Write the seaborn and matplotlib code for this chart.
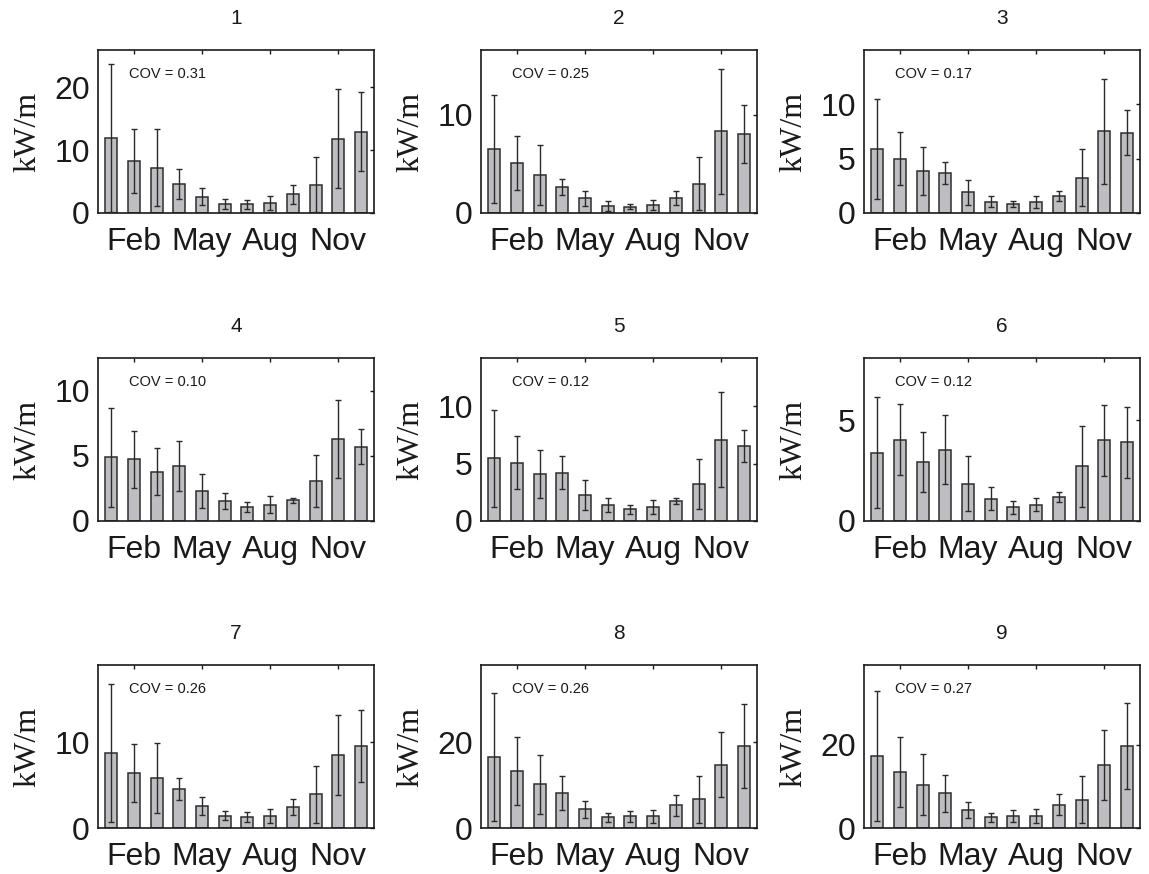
import numpy as np
import pandas as pd
import matplotlib
matplotlib.use("Agg")
import matplotlib.pyplot as plt
import seaborn as sns

months = ["Jan", "Feb", "Mar", "Apr", "May", "Jun", "Jul", "Aug", "Sep", "Oct", "Nov", "Dec"]
tick_labels = ["Feb", "May", "Aug", "Nov"]
panel_titles = ["1", "2", "3", "4", "5", "6", "7", "8", "9"]
cov_values = [0.31, 0.25, 0.17, 0.10, 0.12, 0.12, 0.26, 0.26, 0.27]

means_1 = [11.9, 8.3, 7.2, 4.6, 2.6, 1.4, 1.4, 1.6, 3.0, 4.5, 11.8, 12.9]
err_1 = [11.8, 5.05, 6.15, 2.35, 1.35, 0.75, 0.7, 1.1, 1.5, 4.4, 7.9, 6.25]
means_2 = [6.5, 5.1, 3.9, 2.65, 1.5, 0.71, 0.65, 0.82, 1.53, 3.0, 8.3, 8.06]
err_2 = [5.5, 2.75, 3.05, 0.8, 0.75, 0.48, 0.29, 0.53, 0.72, 2.7, 6.4, 2.95]
means_3 = [5.9, 5.0, 3.9, 3.7, 1.9, 1.05, 0.8, 1.0, 1.57, 3.26, 7.5, 7.4]
err_3 = [4.6, 2.45, 2.2, 1.0, 1.15, 0.48, 0.28, 0.52, 0.43, 2.65, 4.85, 2.1]
means_4 = [4.9, 4.72, 3.78, 4.23, 2.3, 1.53, 1.07, 1.25, 1.58, 3.09, 6.28, 5.69]
err_4 = [3.8, 2.16, 1.81, 1.9, 1.33, 0.63, 0.4, 0.64, 0.19, 2.0, 2.97, 1.35]
means_5 = [5.46, 5.06, 4.08, 4.19, 2.25, 1.42, 1.01, 1.21, 1.71, 3.24, 7.08, 6.53]
err_5 = [4.2, 2.31, 2.07, 1.43, 1.32, 0.6, 0.39, 0.58, 0.26, 2.18, 4.13, 1.43]
means_6 = [3.39, 4.05, 2.91, 3.55, 1.86, 1.1, 0.69, 0.81, 1.2, 2.71, 4.01, 3.91]
err_6 = [2.76, 1.75, 1.49, 1.7, 1.35, 0.57, 0.32, 0.31, 0.26, 1.99, 1.77, 1.75]
means_7 = [8.72, 6.42, 5.84, 4.55, 2.57, 1.44, 1.28, 1.4, 2.45, 3.93, 8.52, 9.57]
err_7 = [8.07, 3.42, 4.09, 1.29, 1.03, 0.56, 0.53, 0.76, 0.98, 3.31, 4.66, 4.15]
means_8 = [16.7, 13.3, 10.2, 8.2, 4.34, 2.48, 2.71, 2.71, 5.27, 6.67, 14.8, 19.1]
err_8 = [14.95, 7.98, 6.92, 3.92, 1.94, 1.13, 1.32, 1.59, 2.44, 5.6, 7.55, 9.8]
means_9 = [17.2, 13.5, 10.4, 8.3, 4.4, 2.6, 2.9, 2.9, 5.6, 6.8, 15.2, 19.7]
err_9 = [15.6, 8.4, 7.3, 4.35, 1.9, 1.1, 1.35, 1.6, 2.6, 5.7, 8.4, 10.4]

all_means = [means_1, means_2, means_3, means_4, means_5, means_6, means_7, means_8, means_9]
all_errs = [err_1, err_2, err_3, err_4, err_5, err_6, err_7, err_8, err_9]
ylim_tops = [25.9, 16.6, 15.0, 12.5, 14.2, 8.1, 19.0, 38.1, 39.1]
ytick_sets = [[0, 10, 20], [0, 10], [0, 5, 10], [0, 5, 10], [0, 5, 10], [0, 5], [0, 10], [0, 20], [0, 20]]

sns.set_style("white")
plt.rcParams["font.family"] = ["Liberation Sans", "DejaVu Sans"]

W, H = 1149, 874
fig = plt.figure(figsize=(W / 100, H / 100), dpi=100)

lefts = [98, 481, 864]
bottoms = [213, 521, 828]
aw, ah = 276, 163

bar_color = "#bebec2"
edge_color = "#2e2e2e"

for i in range(9):
    r, c = divmod(i, 3)
    ax = fig.add_axes([lefts[c] / W, 1 - bottoms[r] / H, aw / W, ah / H])
    df = pd.DataFrame({"month": months, "value": all_means[i]})
    sns.barplot(data=df, x="month", y="value", order=months, ax=ax,
                color=bar_color, saturation=1, width=0.53,
                edgecolor=edge_color, linewidth=1.1, errorbar=None)
    ax.errorbar(np.arange(len(months)), all_means[i], yerr=all_errs[i], fmt="none",
                ecolor="#2a2a2a", elinewidth=1.0, capsize=2, capthick=1.0, zorder=5)
    ax.set_xlim(-0.58, 11.57)
    ax.set_ylim(0, ylim_tops[i])
    ax.set_xticks([months.index(m) for m in tick_labels])
    ax.set_xticklabels(tick_labels)
    ax.set_yticks(ytick_sets[i])
    ax.set_yticklabels([str(v) for v in ytick_sets[i]])
    ax.tick_params(direction="in", length=3, width=1, top=True, right=True,
                   labelsize=23, colors="#1a1a1a")
    ax.tick_params(axis="x", pad=10)
    ax.tick_params(axis="y", pad=6)
    for sp in ax.spines.values():
        sp.set_visible(True)
        sp.set_color("#1a1a1a")
        sp.set_linewidth(1.2)
    ax.set_xlabel("")
    ax.set_ylabel("kW/m", fontsize=23, family=["Liberation Serif", "DejaVu Serif"], color="#1a1a1a")
    ax.yaxis.set_label_coords(-0.20, 0.5)
    ax.set_title(panel_titles[i], fontsize=15, pad=19, color="#1a1a1a")
    ax.text(0.112, 0.853, f"COV = {cov_values[i]:.2f}", transform=ax.transAxes,
            fontsize=10.5, ha="left", va="center", color="#1a1a1a")

fig.savefig("out.png", dpi=100)
